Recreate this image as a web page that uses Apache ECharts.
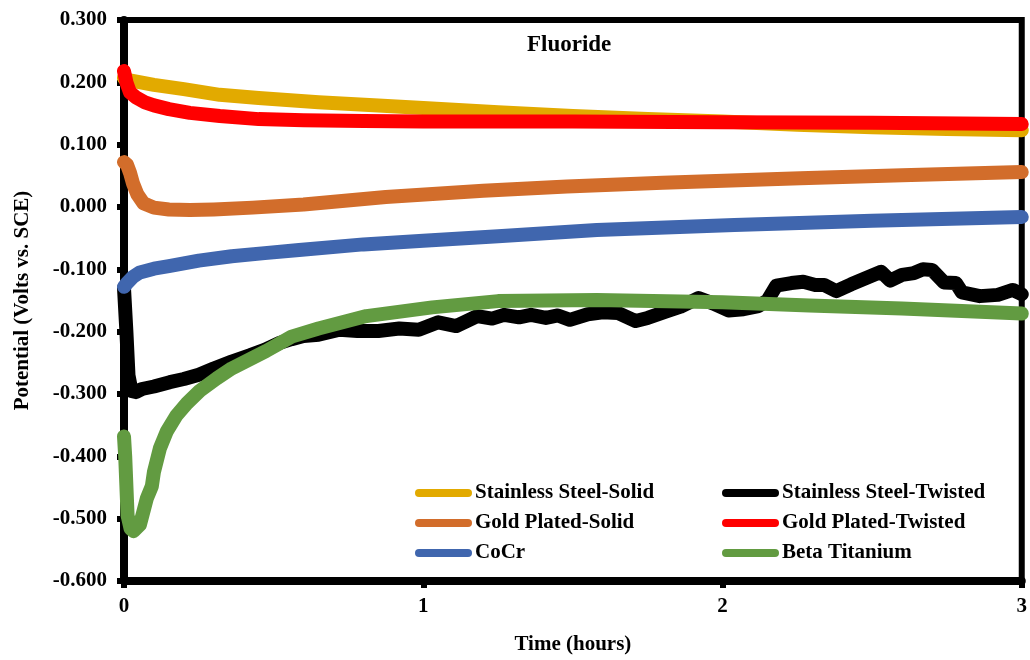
<!DOCTYPE html>
<html>
<head>
<meta charset="utf-8">
<script src="https://cdn.jsdelivr.net/npm/echarts@6/dist/echarts.min.js"></script>
<style>
  html, body { margin: 0; padding: 0; background: #ffffff; }
  #chart { width: 1030px; height: 660px; }
</style>
</head>
<body>
<div id="chart"></div>
<script>
// ---- Data (time in hours, potential in V vs. SCE) ----
const seriesNames = ['Stainless Steel-Solid', 'Stainless Steel-Twisted', 'Gold Plated-Solid',
                     'Gold Plated-Twisted', 'CoCr', 'Beta Titanium'];

const ssSolidT = [0, 0.02, 0.1, 0.2, 0.32, 0.45, 0.65, 0.85, 1.0, 1.25, 1.5, 1.75, 2.0, 2.25, 2.5, 2.75, 3.0];
const ssSolidV = [0.207, 0.203, 0.196, 0.189, 0.180, 0.175, 0.168, 0.163, 0.159, 0.152, 0.146, 0.141, 0.137, 0.132, 0.128, 0.125, 0.123];

const ssTwistT = [0, 0.008, 0.015, 0.025, 0.04, 0.06, 0.1, 0.153, 0.2, 0.25, 0.3, 0.36, 0.42, 0.47, 0.52, 0.56,
                  0.6, 0.65, 0.72, 0.78, 0.85, 0.92, 0.985, 1.05, 1.11, 1.18, 1.23, 1.27, 1.32, 1.36, 1.41, 1.45,
                  1.49, 1.55, 1.6, 1.65, 1.71, 1.75, 1.81, 1.86, 1.92, 1.97, 2.02, 2.07, 2.12, 2.15, 2.18, 2.23,
                  2.27, 2.31, 2.34, 2.38, 2.43, 2.47, 2.53, 2.56, 2.6, 2.64, 2.67, 2.7, 2.74, 2.78, 2.8, 2.86,
                  2.92, 2.97, 3.0];
const ssTwistV = [-0.13, -0.2, -0.27, -0.295, -0.297, -0.292, -0.288, -0.281, -0.276, -0.269, -0.259, -0.248, -0.238, -0.229, -0.218, -0.212,
                  -0.207, -0.205, -0.197, -0.199, -0.199, -0.195, -0.197, -0.185, -0.191, -0.175, -0.179, -0.173, -0.177, -0.173, -0.178, -0.174,
                  -0.181, -0.172, -0.169, -0.170, -0.183, -0.178, -0.168, -0.160, -0.146, -0.155, -0.166, -0.164, -0.159, -0.150, -0.126, -0.122,
                  -0.120, -0.125, -0.125, -0.135, -0.124, -0.116, -0.104, -0.118, -0.109, -0.106, -0.100, -0.101, -0.121, -0.122, -0.137, -0.143,
                  -0.141, -0.133, -0.140];

const gpSolidT = [0, 0.01, 0.02, 0.03, 0.045, 0.065, 0.1, 0.15, 0.22, 0.3, 0.43, 0.6, 0.875, 1.2, 1.48, 1.8, 2.26, 2.6, 3.0];
const gpSolidV = [0.072, 0.068, 0.055, 0.038, 0.020, 0.006, -0.001, -0.004, -0.005, -0.004, -0.001, 0.004, 0.016, 0.026, 0.033, 0.039, 0.046, 0.051, 0.056];

const gpTwistT = [0, 0.008, 0.02, 0.04, 0.07, 0.1, 0.15, 0.22, 0.32, 0.45, 0.6, 0.8, 1.0, 1.5, 2.0, 2.5, 3.0];
const gpTwistV = [0.218, 0.200, 0.184, 0.176, 0.168, 0.163, 0.157, 0.151, 0.146, 0.141, 0.139, 0.138, 0.137, 0.137, 0.136, 0.135, 0.133];

const cocrT = [0, 0.01, 0.03, 0.053, 0.1, 0.15, 0.25, 0.36, 0.47, 0.585, 0.8, 1.0, 1.25, 1.58, 2.04, 2.5, 3.0];
const cocrV = [-0.128, -0.122, -0.112, -0.105, -0.099, -0.095, -0.086, -0.079, -0.074, -0.069, -0.060, -0.054, -0.047, -0.037, -0.029, -0.022, -0.016];

const betaTiT = [0, 0.004, 0.012, 0.022, 0.032, 0.053, 0.064, 0.076, 0.093, 0.1, 0.12, 0.143, 0.176, 0.21, 0.253, 0.31,
                 0.36, 0.475, 0.56, 0.65, 0.81, 1.03, 1.25, 1.58, 2.0, 2.29, 2.6, 3.0];
const betaTiV = [-0.368, -0.40, -0.495, -0.516, -0.520, -0.510, -0.490, -0.468, -0.448, -0.425, -0.387, -0.36, -0.334, -0.315, -0.295, -0.275,
                 -0.259, -0.231, -0.208, -0.195, -0.175, -0.161, -0.151, -0.149, -0.153, -0.158, -0.163, -0.171];

const xTicks = [0, 1, 2, 3];
const yMin = -0.6, yMax = 0.3, yStep = 0.1;

// ---- Styling ----
const colors = ['#E2AA00', '#000000', '#D26D2B', '#FF0000', '#4066AE', '#629B41'];
const FONT = '"Liberation Serif", "Times New Roman", serif';

function zip(t, v) { return t.map((x, i) => [x, v[i]]); }
const allT = [ssSolidT, ssTwistT, gpSolidT, gpTwistT, cocrT, betaTiT];
const allV = [ssSolidV, ssTwistV, gpSolidV, gpTwistV, cocrV, betaTiV];

const series = seriesNames.map((name, i) => ({
  name: name,
  type: 'line',
  data: zip(allT[i], allV[i]),
  showSymbol: false,
  symbol: 'none',
  color: colors[i],
  lineStyle: { color: colors[i], width: 14, cap: 'round', join: 'round' },
  animation: false,
  z: 2 + i
}));

const legendIcon = 'path://M4 0H53A4 4 0 0 1 53 8H4A4 4 0 0 1 4 0Z';
const legendBase = {
  orient: 'vertical',
  top: 482,
  itemWidth: 57,
  itemHeight: 8,
  itemGap: 8,
  icon: legendIcon,
  padding: 0,
  textStyle: { fontFamily: FONT, fontWeight: 'bold', fontSize: 21, color: '#000', lineHeight: 22, padding: [0, 0, 0, -2] },
  selectedMode: false
};

const chart = echarts.init(document.getElementById('chart'), null, { renderer: 'canvas' });
chart.setOption({
  backgroundColor: '#ffffff',
  animation: false,
  title: {
    text: 'Fluoride',
    left: 527,
    top: 34,
    padding: 0,
    textStyle: { fontFamily: FONT, fontWeight: 'bold', fontSize: 23, color: '#000' }
  },
  legend: [
    Object.assign({}, legendBase, { left: 415, data: [seriesNames[0], seriesNames[2], seriesNames[4]] }),
    Object.assign({}, legendBase, { left: 722, data: [seriesNames[1], seriesNames[3], seriesNames[5]] })
  ],
  grid: {
    left: 124, right: 4, top: 20, bottom: 76,
    show: true, borderColor: '#000', borderWidth: 6, backgroundColor: '#fff'
  },
  xAxis: {
    type: 'value',
    min: xTicks[0], max: xTicks[xTicks.length - 1], interval: 1,
    name: 'Time (hours)',
    nameLocation: 'middle',
    nameGap: 53,
    nameTextStyle: { fontFamily: FONT, fontWeight: 'bold', fontSize: 21, color: '#000' },
    axisLine: { show: true, onZero: false, lineStyle: { color: '#000', width: 8 } },
    axisTick: { show: true, inside: false, length: 7, lineStyle: { color: '#000', width: 6 } },
    axisLabel: { margin: 15, fontFamily: FONT, fontWeight: 'bold', fontSize: 21, color: '#000',
                 formatter: v => String(v) },
    splitLine: { show: false }
  },
  yAxis: {
    type: 'value',
    min: yMin, max: yMax, interval: yStep,
    name: 'Potential (Volts vs. SCE)',
    nameLocation: 'middle',
    nameGap: 91,
    nameTextStyle: { fontFamily: FONT, fontWeight: 'bold', fontSize: 21, color: '#000' },
    axisLine: { show: true, onZero: false, lineStyle: { color: '#000', width: 8 } },
    axisTick: { show: true, inside: false, length: 7, lineStyle: { color: '#000', width: 6 } },
    axisLabel: { margin: 17, fontFamily: FONT, fontWeight: 'bold', fontSize: 21, color: '#000',
                 formatter: v => (Math.abs(v) < 1e-9 ? 0 : v).toFixed(3) },
    splitLine: { show: false }
  },
  series: series
});
</script>
</body>
</html>
